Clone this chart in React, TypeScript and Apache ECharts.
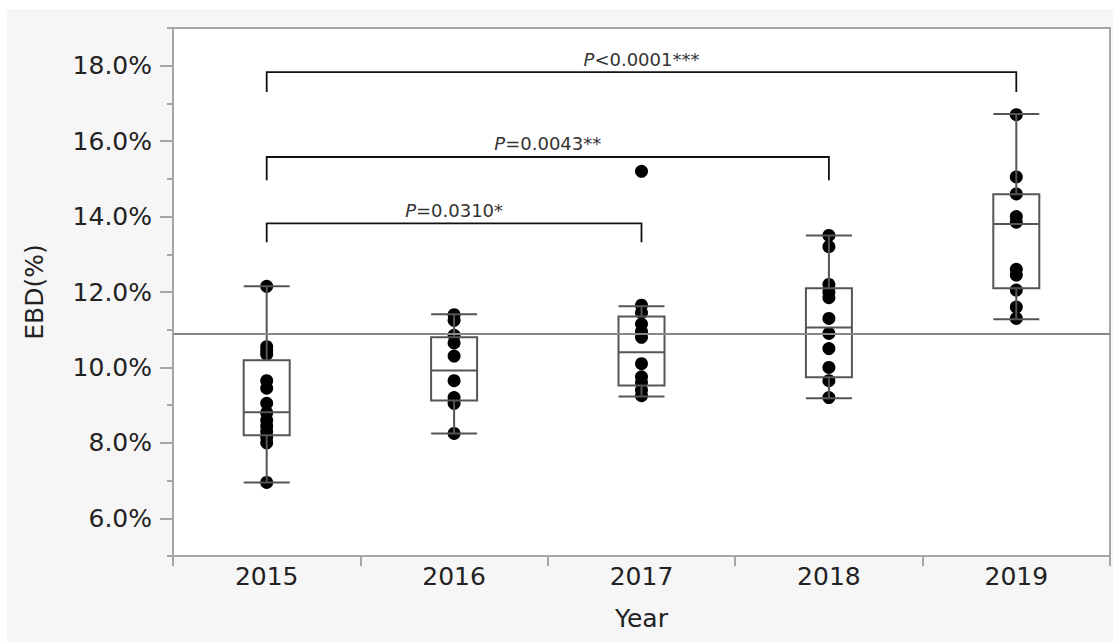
import React, { useEffect, useRef } from "react";
import * as echarts from "echarts";

const years = ["2015", "2016", "2017", "2018", "2019"];

// box stats: [min, Q1, median, Q3, max]
const boxStats = [
  [6.95, 8.2, 8.81, 10.19, 12.15],
  [8.25, 9.12, 9.92, 10.8, 11.41],
  [9.23, 9.52, 10.4, 11.35, 11.62],
  [9.18, 9.74, 11.06, 12.1, 13.5],
  [11.28, 12.1, 13.8, 14.59, 16.72],
];

const points2015 = [12.15, 10.55, 10.45, 10.35, 9.65, 9.45, 9.05, 8.8, 8.6, 8.45, 8.3, 8.15, 8.0, 6.95];
const points2016 = [11.4, 11.25, 10.85, 10.65, 10.3, 9.65, 9.2, 9.05, 8.25];
const points2017 = [15.2, 11.65, 11.45, 11.15, 10.95, 10.8, 10.1, 9.75, 9.6, 9.4, 9.25];
const points2018 = [13.5, 13.2, 12.2, 12.0, 11.85, 11.3, 10.9, 10.5, 10.0, 9.65, 9.2];
const points2019 = [16.7, 15.05, 14.6, 14.0, 13.85, 12.6, 12.45, 12.05, 11.6, 11.3];
const allPoints = [points2015, points2016, points2017, points2018, points2019];

const meanLine = 10.9;

// brackets: from index, to index, top value, drop value
const bracketFrom = [0, 0, 0];
const bracketTo = [4, 3, 2];
const bracketTop = [17.83, 15.58, 13.82];
const bracketDrop = [17.3, 14.96, 13.32];
const bracketText = ["<0.0001***", "=0.0043**", "=0.0310*"];

const yMajorTicks = [6, 8, 10, 12, 14, 16, 18];

const FONT = "DejaVu Sans";

export default function App() {
  const ref = useRef<HTMLDivElement>(null);
  useEffect(() => {
    if (!ref.current) return;
    const chart = echarts.init(ref.current, undefined, { renderer: "svg" });
    const scatterData: any[] = [];
    allPoints.forEach((arr, i) => arr.forEach((v) => scatterData.push([i, v])));
    const bracketData = bracketFrom.map((f, i) => [f, bracketTo[i], bracketTop[i], bracketDrop[i]]);
    const axisColor = "#a6a6a6";
    chart.setOption({
      animation: false,
      backgroundColor: "#ffffff",
      graphic: [
        {
          type: "rect",
          z: -10,
          silent: true,
          shape: { x: 7, y: 9, width: 1106, height: 633 },
          style: { fill: "#f6f6f6" },
        },
      ],
      grid: {
        left: 173,
        top: 28,
        right: 10,
        bottom: 87,
        show: true,
        backgroundColor: "#ffffff",
        borderColor: axisColor,
        borderWidth: 2,
      },
      xAxis: {
        type: "category",
        data: years,
        boundaryGap: true,
        name: "Year",
        nameLocation: "middle",
        nameGap: 50,
        nameTextStyle: { fontFamily: FONT, fontSize: 25, color: "#222" },
        axisLine: { lineStyle: { color: axisColor, width: 2 } },
        axisTick: { show: true, length: 10, lineStyle: { color: axisColor, width: 2 } },
        axisLabel: { fontFamily: FONT, fontSize: 25, color: "#222", margin: 8 },
        splitLine: { show: false },
      },
      yAxis: [
        {
          type: "value",
          min: 5,
          max: 19,
          interval: 1,
          axisLine: { show: true, lineStyle: { color: axisColor, width: 2 } },
          axisTick: { show: true, length: 6, lineStyle: { color: axisColor, width: 2 } },
          axisLabel: { show: false },
          splitLine: { show: false },
        },
        {
          type: "value",
          min: 5,
          max: 19,
          position: "left",
          name: "EBD(%)",
          nameLocation: "middle",
          nameGap: 126,
          nameRotate: 90,
          nameTextStyle: { fontFamily: FONT, fontSize: 25, color: "#222" },
          axisLine: { show: false },
          axisTick: {
            show: true,
            length: 13,
            customValues: yMajorTicks,
            lineStyle: { color: axisColor, width: 2 },
          },
          axisLabel: {
            customValues: yMajorTicks,
            fontFamily: FONT,
            fontSize: 25,
            color: "#222",
            margin: 21,
            formatter: (v: number) => v.toFixed(1) + "%",
          },
          splitLine: { show: false },
        },
      ],
      series: [
        {
          type: "scatter",
          data: scatterData,
          symbol: "circle",
          symbolSize: 13,
          itemStyle: { color: "#000", opacity: 1 },
          z: 2,
        },
        {
          type: "boxplot",
          data: boxStats,
          boxWidth: [46, 46],
          itemStyle: { color: "rgba(0,0,0,0)", borderColor: "#555", borderWidth: 2 },
          z: 3,
          markLine: {
            silent: true,
            symbol: "none",
            label: { show: false },
            lineStyle: { color: "#888", width: 2, type: "solid" },
            data: [{ yAxis: meanLine }],
          },
        },
        {
          type: "custom",
          data: bracketData,
          z: 4,
          encode: { x: [0, 1], y: [2, 3] },
          renderItem: (params: any, api: any) => {
            const i = params.dataIndex;
            const a = api.coord([api.value(0), api.value(2)]);
            const b = api.coord([api.value(1), api.value(2)]);
            const d = api.coord([api.value(0), api.value(3)]);
            const x0 = a[0];
            const x1 = b[0];
            const yt = a[1];
            const yd = d[1];
            return {
              type: "group",
              children: [
                {
                  type: "polyline",
                  shape: { points: [[x0, yd], [x0, yt], [x1, yt], [x1, yd]] },
                  style: { stroke: "#111", lineWidth: 1.8, fill: "none" },
                },
                {
                  type: "text",
                  x: (x0 + x1) / 2,
                  y: yt - 4,
                  style: {
                    text: "{p|P}" + bracketText[i],
                    align: "center",
                    verticalAlign: "bottom",
                    fontFamily: FONT,
                    fontSize: 18,
                    fill: "#333",
                    rich: {
                      p: { fontStyle: "italic", fontFamily: FONT, fontSize: 18, fill: "#333" },
                    },
                  },
                },
              ],
            };
          },
        },
      ],
    });
    return () => chart.dispose();
  }, []);
  return (
    <div
      ref={ref}
      style={{ position: "fixed", left: 0, top: 0, width: 1120, height: 643 }}
    />
  );
}
